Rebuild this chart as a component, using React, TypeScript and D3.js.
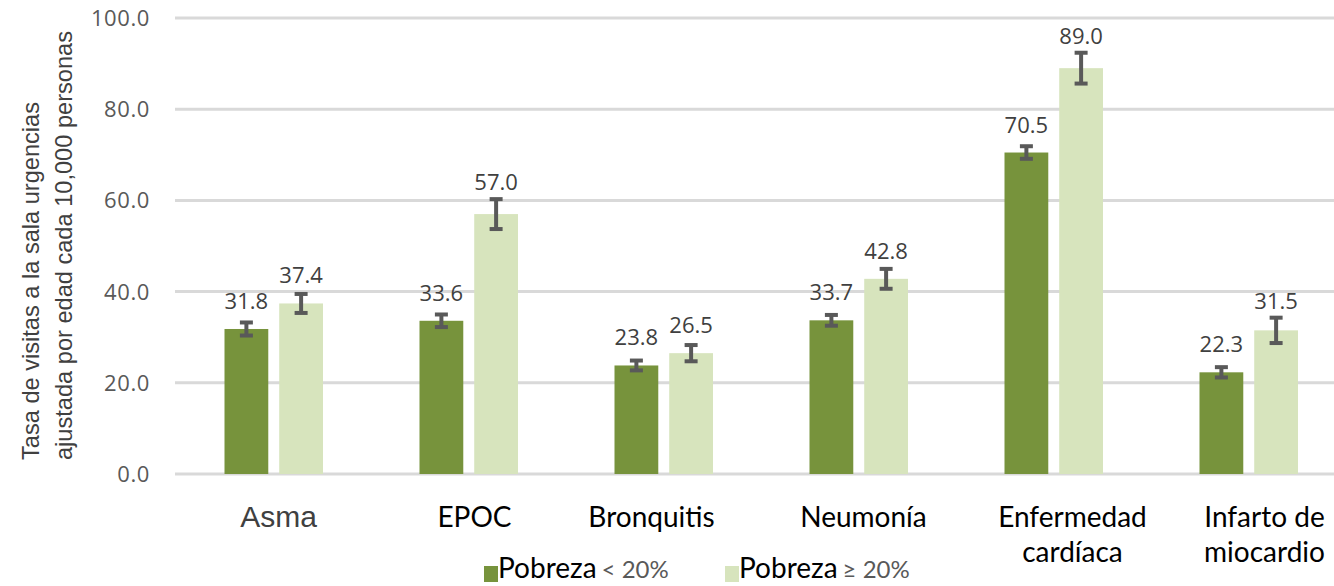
import React from "react";
import * as d3 from "d3";

const categories: string[][] = [
  ["Asma"],
  ["EPOC"],
  ["Bronquitis"],
  ["Neumonía"],
  ["Enfermedad", "cardíaca"],
  ["Infarto de", "miocardio"],
];
const seriesNames = ["Pobreza", "Pobreza"];
const seriesSuffix = ["< 20%", "≥ 20%"];
const lowPoverty = [31.8, 33.6, 23.8, 33.7, 70.5, 22.3];
const highPoverty = [37.4, 57.0, 26.5, 42.8, 89.0, 31.5];
const lowPovertyErr = [1.65, 1.6, 1.3, 1.4, 1.6, 1.35];
const highPovertyErr = [2.3, 3.5, 2.0, 2.4, 3.6, 3.0];
const yTicks = [0, 20, 40, 60, 80, 100];
const yTitle = ["Tasa de visitas a la sala urgencias", "ajustada por edad cada 10,000 personas"];

const W = 1334;
const H = 586;
const colors = ["#77933C", "#D7E4BD"];
const labelNudge = [6, 7, -11, 6, 20, 17];

export default function App() {
  const cats = categories.map((c) => c.join(" "));
  const x = d3.scaleBand<string>().domain(cats).range([175, 1345]).paddingInner(0).paddingOuter(0);
  const xs = d3.scaleBand<number>().domain([0, 1]).range([49.5, 148]).paddingInner(0.2).paddingOuter(0);
  const y = d3.scaleLinear().domain([0, 100]).range([474, 18]);
  const values = [lowPoverty, highPoverty];
  const errs = [lowPovertyErr, highPovertyErr];

  return (
    <svg
      width={W}
      height={H}
      style={{ position: "absolute", left: 0, top: 0, background: "#fff" }}
    >
      <rect x={0} y={0} width={W} height={H} fill="#fff" />
      {/* gridlines */}
      {yTicks.map((t) => (
        <line key={t} x1={175} x2={W} y1={y(t)} y2={y(t)} stroke="#D9D9D9" strokeWidth={3} />
      ))}
      {/* tick labels */}
      {yTicks.map((t) => (
        <text
          key={"t" + t}
          x={150}
          y={y(t) + 8}
          textAnchor="end"
          fontFamily="'Open Sans', sans-serif"
          fontSize={22}
          letterSpacing={0.6}
          fill="#595959"
        >
          {d3.format(".1f")(t)}
        </text>
      ))}
      {/* y title */}
      {yTitle.map((line, i) => (
        <text
          key={"yt" + i}
          transform={`translate(${39 + i * 33},460) rotate(-90)`}
          textAnchor="start"
          fontFamily="'Liberation Sans', Arial, sans-serif"
          fontSize={23.6}
          fill="#404040"
        >
          {line}
        </text>
      ))}
      {/* bars */}
      {values.map((vals, s) =>
        vals.map((v, i) => {
          const bx = (x(cats[i]) as number) + (xs(s) as number);
          return (
            <rect
              key={`b${s}-${i}`}
              x={bx}
              y={y(v)}
              width={xs.bandwidth()}
              height={y(0) - y(v)}
              fill={colors[s]}
            />
          );
        })
      )}
      {/* error bars */}
      {values.map((vals, s) =>
        vals.map((v, i) => {
          const cx = (x(cats[i]) as number) + (xs(s) as number) + xs.bandwidth() / 2;
          const e = errs[s][i];
          const yt = y(v + e);
          const yb = y(v - e);
          return (
            <g key={`e${s}-${i}`} stroke="#595959" strokeWidth={4}>
              <line x1={cx} x2={cx} y1={yt} y2={yb} />
              <line x1={cx - 6.5} x2={cx + 6.5} y1={yt + 1} y2={yt + 1} />
              <line x1={cx - 6.5} x2={cx + 6.5} y1={yb - 1} y2={yb - 1} />
            </g>
          );
        })
      )}
      {/* value labels */}
      {values.map((vals, s) =>
        vals.map((v, i) => {
          const cx = (x(cats[i]) as number) + (xs(s) as number) + xs.bandwidth() / 2;
          const e = errs[s][i];
          const by = Math.min(y(v) - 20, y(v + e) - 8);
          return (
            <text
              key={`v${s}-${i}`}
              x={cx}
              y={by}
              textAnchor="middle"
              fontFamily="'Open Sans', sans-serif"
              fontSize={22}
              fill="#404040"
            >
              {d3.format(".1f")(v)}
            </text>
          );
        })
      )}
      {/* category labels */}
      {categories.map((lines, i) => {
        const cx = (x(cats[i]) as number) + x.bandwidth() / 2 + labelNudge[i];
        const isFirst = i === 0;
        return (
          <text
            key={"c" + i}
            x={cx}
            y={527}
            textAnchor="middle"
            fontFamily={isFirst ? "'Liberation Sans', Arial, sans-serif" : "Lato, sans-serif"}
            fontSize={isFirst ? 30 : 28}
            fill={isFirst ? "#404040" : "#000"}
          >
            {lines.map((l, k) => (
              <tspan key={k} x={cx} dy={k === 0 ? 0 : 35}>
                {l}
              </tspan>
            ))}
          </text>
        );
      })}
      {/* legend */}
      {seriesNames.map((name, s) => {
        const lx = s === 0 ? 484 : 725;
        return (
          <g key={"lg" + s}>
            <rect x={lx} y={566} width={14} height={16} fill={colors[s]} />
            <text x={lx + 14} y={578} fontFamily="Lato, sans-serif" fontSize={28} fill="#000">
              {name}
              <tspan dx={5} fontSize={24} fill="#595959">
                {seriesSuffix[s]}
              </tspan>
            </text>
          </g>
        );
      })}
    </svg>
  );
}
